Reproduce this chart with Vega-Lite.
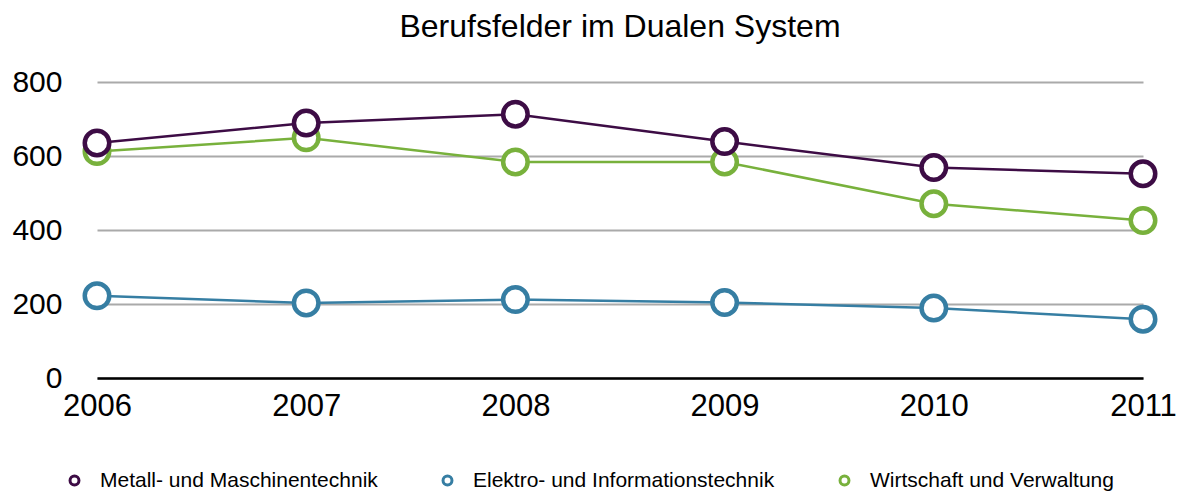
{
  "$schema": "https://vega.github.io/schema/vega-lite/v6.json",
  "width": 1046,
  "height": 296,
  "autosize": "none",
  "padding": {"left": 97, "top": 82, "right": 35, "bottom": 114},
  "background": "white",
  "config": {"font": "Liberation Sans", "view": {"stroke": null}},
  "title": {"text": "Berufsfelder im Dualen System", "fontSize": 32, "font": "Liberation Sans", "fontWeight": "normal", "color": "black", "anchor": "middle", "offset": 23},
  "data": {"values": [
    {"Jahr": "2006", "Berufsfeld": "Wirtschaft und Verwaltung", "Wert": 612},
    {"Jahr": "2007", "Berufsfeld": "Wirtschaft und Verwaltung", "Wert": 649},
    {"Jahr": "2008", "Berufsfeld": "Wirtschaft und Verwaltung", "Wert": 584},
    {"Jahr": "2009", "Berufsfeld": "Wirtschaft und Verwaltung", "Wert": 584},
    {"Jahr": "2010", "Berufsfeld": "Wirtschaft und Verwaltung", "Wert": 471},
    {"Jahr": "2011", "Berufsfeld": "Wirtschaft und Verwaltung", "Wert": 426},
    {"Jahr": "2006", "Berufsfeld": "Elektro- und Informationstechnik", "Wert": 222},
    {"Jahr": "2007", "Berufsfeld": "Elektro- und Informationstechnik", "Wert": 203},
    {"Jahr": "2008", "Berufsfeld": "Elektro- und Informationstechnik", "Wert": 212},
    {"Jahr": "2009", "Berufsfeld": "Elektro- und Informationstechnik", "Wert": 204},
    {"Jahr": "2010", "Berufsfeld": "Elektro- und Informationstechnik", "Wert": 189},
    {"Jahr": "2011", "Berufsfeld": "Elektro- und Informationstechnik", "Wert": 159},
    {"Jahr": "2006", "Berufsfeld": "Metall- und Maschinentechnik", "Wert": 635},
    {"Jahr": "2007", "Berufsfeld": "Metall- und Maschinentechnik", "Wert": 689},
    {"Jahr": "2008", "Berufsfeld": "Metall- und Maschinentechnik", "Wert": 713},
    {"Jahr": "2009", "Berufsfeld": "Metall- und Maschinentechnik", "Wert": 639},
    {"Jahr": "2010", "Berufsfeld": "Metall- und Maschinentechnik", "Wert": 569},
    {"Jahr": "2011", "Berufsfeld": "Metall- und Maschinentechnik", "Wert": 552}
  ]},
  "encoding": {
    "x": {"field": "Jahr", "type": "ordinal", "scale": {"type": "point", "padding": 0},
      "axis": {"title": null, "labelAngle": 0, "ticks": false, "labelFontSize": 31, "labelColor": "black", "labelPadding": 13, "domainColor": "black", "domainWidth": 2.5, "grid": false}},
    "y": {"field": "Wert", "type": "quantitative", "scale": {"domain": [0, 800], "nice": false},
      "axis": {"title": null, "values": [0, 200, 400, 600, 800], "grid": true, "gridColor": "#aaaaaa", "gridWidth": 2, "domain": false, "ticks": false, "labelFontSize": 30, "labelColor": "black", "labelPadding": 35}},
    "color": {"field": "Berufsfeld", "type": "nominal",
      "scale": {"domain": ["Metall- und Maschinentechnik", "Elektro- und Informationstechnik", "Wirtschaft und Verwaltung"], "range": ["#3d0c45", "#367ea3", "#78b13c"]},
      "legend": {"title": null, "orient": "none", "legendX": -33, "legendY": 388, "direction": "horizontal", "columnPadding": 59, "symbolType": "circle", "symbolFillColor": "white", "symbolStrokeWidth": 3, "symbolSize": 80, "labelFontSize": 21, "labelColor": "black", "labelOffset": 15, "labelLimit": 0}}
  },
  "layer": [
    {"mark": {"type": "line", "strokeWidth": 2.5}},
    {"mark": {"type": "point", "filled": false, "fill": "white", "size": 600, "strokeWidth": 4.5, "opacity": 1}}
  ]
}
